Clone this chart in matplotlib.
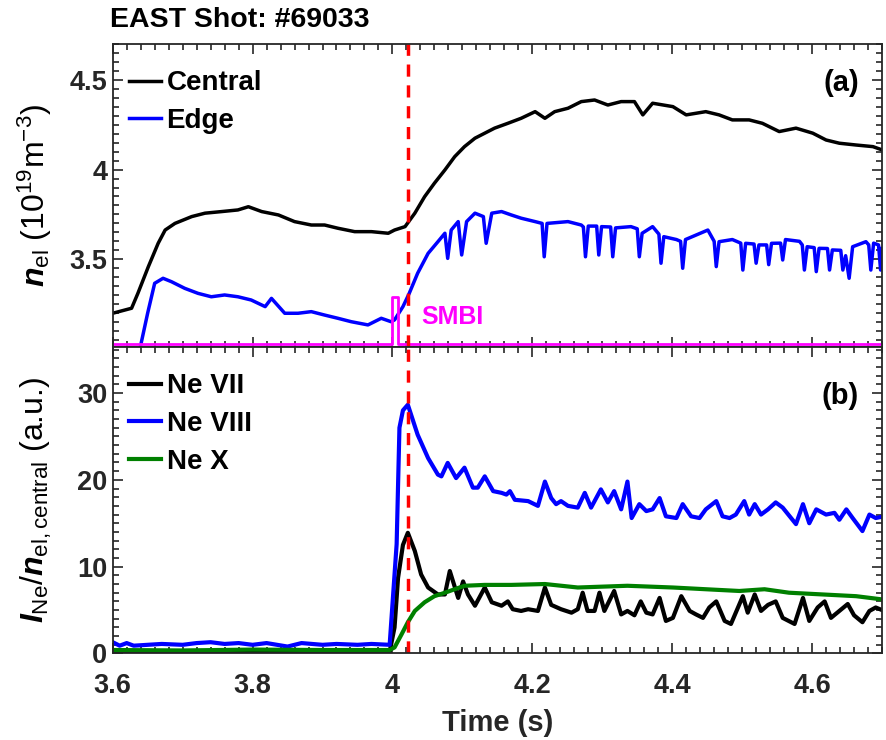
import numpy as np
import matplotlib
matplotlib.use('Agg')
import matplotlib.pyplot as plt
from matplotlib.ticker import MultipleLocator

plt.rcParams['font.family'] = ['Liberation Sans', 'DejaVu Sans']
plt.rcParams['font.weight'] = 'bold'
plt.rcParams['mathtext.fontset'] = 'custom'
plt.rcParams['mathtext.rm'] = 'Liberation Sans:weight=normal'
plt.rcParams['mathtext.it'] = 'Liberation Sans:italic:bold'
plt.rcParams['mathtext.bf'] = 'Liberation Sans:bold'

# ---- panel (a): line-averaged density ----
central_t = [3.600, 3.627, 3.636, 3.651, 3.665, 3.675, 3.689, 3.713, 3.732, 3.756,
             3.779, 3.794, 3.813, 3.837, 3.860, 3.884, 3.903, 3.922, 3.946, 3.970,
             3.994, 4.003, 4.018, 4.032, 4.046, 4.060, 4.075, 4.089, 4.103, 4.118,
             4.132, 4.146, 4.165, 4.184, 4.204, 4.218, 4.232, 4.251, 4.270, 4.289,
             4.308, 4.327, 4.346, 4.358, 4.372, 4.401, 4.420, 4.448, 4.467, 4.486,
             4.510, 4.529, 4.553, 4.577, 4.601, 4.620, 4.639, 4.663, 4.687, 4.700]
central_v = [3.199, 3.227, 3.310, 3.459, 3.589, 3.663, 3.700, 3.738, 3.757, 3.766,
             3.775, 3.793, 3.766, 3.747, 3.710, 3.691, 3.691, 3.673, 3.654, 3.654,
             3.645, 3.663, 3.682, 3.757, 3.849, 3.924, 3.998, 4.072, 4.128, 4.175,
             4.203, 4.231, 4.258, 4.286, 4.323, 4.286, 4.323, 4.342, 4.379, 4.388,
             4.360, 4.379, 4.379, 4.305, 4.370, 4.351, 4.305, 4.323, 4.305, 4.277,
             4.277, 4.258, 4.212, 4.231, 4.203, 4.165, 4.147, 4.137, 4.128, 4.110]

edge_t = [3.640, 3.650, 3.660, 3.672, 3.684, 3.703, 3.722, 3.741, 3.760, 3.779,
          3.798, 3.818, 3.827, 3.846, 3.865, 3.884, 3.903, 3.922, 3.941, 3.965,
          3.984, 3.998, 4.003, 4.015, 4.024, 4.036, 4.051, 4.065, 4.075, 4.079,
          4.084, 4.094, 4.099, 4.106, 4.118, 4.130, 4.134, 4.142, 4.156, 4.170,
          4.184, 4.204, 4.214, 4.217, 4.221, 4.251, 4.270, 4.273, 4.276, 4.280,
          4.292, 4.295, 4.299, 4.312, 4.315, 4.319, 4.341, 4.350, 4.353, 4.357,
          4.372, 4.381, 4.384, 4.388, 4.406, 4.412, 4.415, 4.419, 4.451, 4.460,
          4.463, 4.467, 4.486, 4.498, 4.501, 4.505, 4.517, 4.520, 4.524, 4.535,
          4.538, 4.542, 4.555, 4.558, 4.562, 4.582, 4.586, 4.589, 4.593, 4.603,
          4.606, 4.610, 4.622, 4.625, 4.629, 4.641, 4.644, 4.648, 4.653, 4.658,
          4.677, 4.681, 4.684, 4.688, 4.695, 4.698, 4.700]
edge_v = [3.020, 3.200, 3.366, 3.394, 3.375, 3.338, 3.310, 3.291, 3.301, 3.291,
          3.273, 3.236, 3.282, 3.199, 3.199, 3.208, 3.189, 3.171, 3.152, 3.134,
          3.171, 3.152, 3.162, 3.236, 3.310, 3.422, 3.533, 3.598, 3.645, 3.505,
          3.663, 3.710, 3.524, 3.710, 3.757, 3.738, 3.589, 3.757, 3.766, 3.747,
          3.729, 3.710, 3.700, 3.514, 3.700, 3.710, 3.691, 3.680, 3.514, 3.685,
          3.685, 3.524, 3.682, 3.680, 3.514, 3.675, 3.682, 3.670, 3.514, 3.645,
          3.682, 3.640, 3.478, 3.626, 3.610, 3.600, 3.450, 3.610, 3.663, 3.600,
          3.459, 3.598, 3.610, 3.590, 3.440, 3.589, 3.585, 3.478, 3.580, 3.580,
          3.470, 3.589, 3.590, 3.496, 3.610, 3.600, 3.580, 3.440, 3.570, 3.565,
          3.431, 3.561, 3.560, 3.440, 3.552, 3.550, 3.440, 3.520, 3.394, 3.570,
          3.598, 3.580, 3.440, 3.590, 3.580, 3.440, 3.560]

smbi_t = [3.600, 4.000, 4.000, 4.008, 4.008, 4.700]
smbi_v = [3.027, 3.027, 3.290, 3.290, 3.027, 3.027]

# ---- panel (b): normalised Ne line intensities ----
ne7_t = [3.600, 3.650, 3.700, 3.750, 3.800, 3.850, 3.900, 3.950, 3.996, 4.003,
         4.008, 4.015, 4.022, 4.032, 4.041, 4.051, 4.065, 4.075, 4.082, 4.094,
         4.101, 4.108, 4.118, 4.132, 4.142, 4.156, 4.165, 4.172, 4.184, 4.194,
         4.208, 4.218, 4.227, 4.241, 4.256, 4.265, 4.272, 4.279, 4.289, 4.296,
         4.303, 4.317, 4.327, 4.336, 4.346, 4.355, 4.363, 4.372, 4.382, 4.391,
         4.401, 4.413, 4.425, 4.434, 4.444, 4.453, 4.463, 4.475, 4.484, 4.501,
         4.508, 4.518, 4.527, 4.537, 4.548, 4.558, 4.575, 4.587, 4.596, 4.608,
         4.618, 4.627, 4.639, 4.651, 4.660, 4.672, 4.682, 4.691, 4.703]
ne7_v = [0.2, 0.3, 0.2, 0.3, 0.2, 0.3, 0.2, 0.3, 0.2, 3.0,
         8.7, 12.5, 13.9, 11.8, 9.1, 7.6, 6.8, 6.8, 9.5, 6.4,
         8.3, 6.8, 5.5, 7.6, 5.9, 5.5, 6.0, 5.1, 4.9, 5.1,
         4.9, 7.6, 5.6, 5.1, 4.7, 5.1, 7.0, 4.9, 4.9, 7.0,
         4.9, 7.2, 4.5, 4.9, 4.4, 6.0, 4.7, 4.5, 6.4, 3.75,
         4.1, 6.6, 4.9, 4.5, 4.1, 5.3, 6.0, 3.75, 3.4, 6.6,
         4.7, 6.8, 4.9, 5.6, 6.0, 4.1, 3.4, 6.4, 3.75, 5.3,
         6.0, 4.1, 4.9, 5.7, 4.4, 3.6, 4.9, 5.3, 4.9]

ne8_t = [3.600, 3.610, 3.620, 3.630, 3.650, 3.670, 3.700, 3.720, 3.740, 3.760,
         3.780, 3.800, 3.820, 3.850, 3.870, 3.900, 3.920, 3.950, 3.970, 3.996,
         4.006, 4.010, 4.015, 4.022, 4.036, 4.051, 4.065, 4.070, 4.079, 4.091,
         4.103, 4.115, 4.122, 4.132, 4.144, 4.156, 4.163, 4.168, 4.175, 4.194,
         4.208, 4.218, 4.227, 4.234, 4.241, 4.251, 4.265, 4.275, 4.284, 4.298,
         4.308, 4.317, 4.327, 4.336, 4.342, 4.353, 4.363, 4.372, 4.382, 4.391,
         4.406, 4.415, 4.427, 4.439, 4.448, 4.463, 4.472, 4.482, 4.491, 4.503,
         4.510, 4.518, 4.527, 4.537, 4.548, 4.558, 4.577, 4.587, 4.596, 4.606,
         4.620, 4.632, 4.639, 4.649, 4.658, 4.672, 4.682, 4.691, 4.703]
ne8_v = [1.3, 0.9, 1.2, 0.9, 1.0, 1.1, 1.0, 1.2, 1.3, 1.1,
         1.2, 1.0, 1.2, 0.8, 1.2, 1.0, 1.1, 1.0, 1.1, 1.0,
         12.6, 26.0, 28.0, 28.65, 25.2, 22.5, 20.6, 20.4, 21.95, 20.2,
         21.4, 19.1, 19.1, 20.4, 18.7, 18.5, 18.3, 18.7, 17.7, 17.55,
         17.0, 19.8, 17.9, 17.2, 17.55, 17.0, 16.8, 18.5, 16.8, 18.9,
         17.4, 18.7, 16.6, 19.8, 15.6, 17.2, 16.4, 16.6, 17.9, 15.8,
         15.6, 17.2, 15.8, 15.6, 16.6, 17.55, 15.8, 15.6, 16.0, 17.55,
         16.0, 17.2, 16.0, 16.6, 17.4, 16.8, 14.9, 17.2, 15.0, 16.6,
         16.0, 16.2, 15.4, 16.6, 15.6, 14.1, 16.0, 15.6, 15.8]

ne10_t = [3.600, 3.700, 3.800, 3.900, 3.996, 4.003, 4.013, 4.022, 4.032, 4.046,
          4.060, 4.075, 4.089, 4.103, 4.132, 4.170, 4.218, 4.265, 4.336, 4.401,
          4.448, 4.496, 4.532, 4.567, 4.615, 4.663, 4.703]
ne10_v = [0.4, 0.35, 0.45, 0.4, 0.4, 0.7, 2.2, 3.6, 4.9, 5.9,
          6.6, 7.0, 7.4, 7.8, 7.9, 7.9, 8.0, 7.6, 7.8, 7.6,
          7.4, 7.2, 7.4, 7.0, 6.8, 6.6, 6.2]

t_smbi_mark = 4.022

tick_col = '#262626'

fig = plt.figure(figsize=(8.86, 7.4), dpi=100)
ax1 = fig.add_axes([0.1272, 0.5311, 0.8683, 0.4094])
ax2 = fig.add_axes([0.1272, 0.1169, 0.8683, 0.4142])

def style_axis(ax):
    ax.set_xlim(3.6, 4.7)
    ax.xaxis.set_major_locator(MultipleLocator(0.2))
    ax.xaxis.set_minor_locator(MultipleLocator(0.02))
    ax.tick_params(which='both', direction='in', top=True, right=True,
                   colors=tick_col, labelsize=19.5, width=1.2)
    ax.tick_params(which='major', length=7)
    ax.tick_params(which='minor', length=4)
    ax.tick_params(axis='x', which='both', pad=14)
    ax.tick_params(axis='y', which='both', pad=4)
    for s in ax.spines.values():
        s.set_linewidth(1.3)
        s.set_color(tick_col)

# panel (a)
ax1.plot(central_t, central_v, color='k', lw=2.5, label='Central')
ax1.plot(edge_t, edge_v, color='#0000FF', lw=2.5, label='Edge')
ax1.plot(smbi_t, smbi_v, color='#FF00FF', lw=2)
ax1.axvline(t_smbi_mark, color='#FF0000', lw=2.5, ls=(0, (3.5, 2.5)))
style_axis(ax1)
ax1.set_ylim(3.011, 4.70)
ax1.set_yticks([3.5, 4, 4.5])
ax1.set_yticklabels(['3.5', '4', '4.5'])
ax1.yaxis.set_minor_locator(MultipleLocator(0.05))
ax1.tick_params(labelbottom=False)
ax1.text(4.041, 3.18, 'SMBI', color='#FF00FF', fontsize=18, fontweight='bold', va='center')
ax1.text(0.97, 0.87, '(a)', transform=ax1.transAxes, fontsize=21, fontweight='bold',
         ha='right', va='center')
leg_kw = dict(loc='upper left', bbox_to_anchor=(-0.013, 1.0), frameon=False, fontsize=20,
              handlelength=1.15, handletextpad=0.2, labelspacing=0.42,
              borderaxespad=0.5, borderpad=0.45)
ax1.legend(**leg_kw)
ax1.set_ylabel(r'$n_{\mathrm{el}}$ (10$^{19}$m$^{-3}$)', fontsize=23, fontweight='normal')
ax1.yaxis.set_label_coords(-0.076, 0.5)

# panel (b)
ax2.plot(ne7_t, ne7_v, color='k', lw=3, label='Ne VII')
ax2.plot(ne8_t, ne8_v, color='#0000FF', lw=3, label='Ne VIII')
ax2.plot(ne10_t, ne10_v, color='#008000', lw=3, label='Ne X')
ax2.axvline(t_smbi_mark, color='#FF0000', lw=2.5, ls=(0, (3.5, 2.5)))
style_axis(ax2)
ax2.set_ylim(0, 35.3)
ax2.set_yticks([0, 10, 20, 30])
ax2.yaxis.set_minor_locator(MultipleLocator(1))
ax2.set_xticks([3.6, 3.8, 4.0, 4.2, 4.4, 4.6])
ax2.set_xticklabels(['3.6', '3.8', '4', '4.2', '4.4', '4.6'])
ax2.text(0.97, 0.84, '(b)', transform=ax2.transAxes, fontsize=21, fontweight='bold',
         ha='right', va='center')
ax2.legend(**leg_kw)
ax2.set_ylabel(r'$I_{\mathrm{Ne}}/n_{\mathrm{el,central}}$ (a.u.)', fontsize=23, fontweight='normal')
ax2.yaxis.set_label_coords(-0.076, 0.5)
ax2.set_xlabel('Time (s)', fontsize=21, fontweight='bold', color=tick_col, labelpad=7)

fig.text(0.124, 0.973, 'EAST Shot: #69033', fontsize=20.5, fontweight='bold', ha='left', va='center')

fig.savefig('out.png', dpi=100)
